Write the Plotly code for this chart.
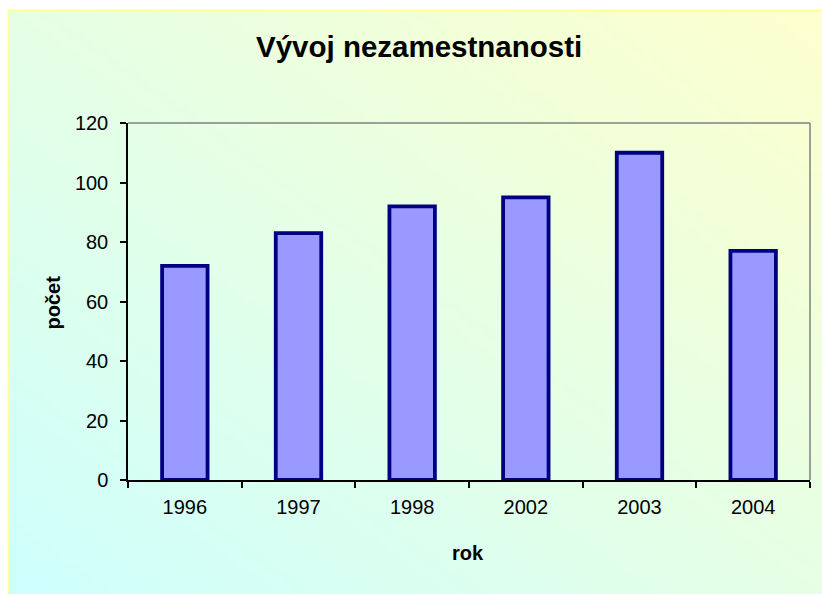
import base64
import struct
import zlib

import plotly.graph_objects as go

# ---- data ----
years = ["1996", "1997", "1998", "2002", "2003", "2004"]
counts = [72, 83, 92, 95, 110, 77]
y_ticks = [0, 20, 40, 60, 80, 100, 120]

title_text = "Vývoj nezamestnanosti"
x_title = "rok"
y_title = "počet"

# ---- layout geometry (pixels) ----
W, H = 822, 594
PL, PR, PT, PB = 128, 810, 123, 480  # plot area
pw, ph = PR - PL, PB - PT


def px_x(p):
    return (p - PL) / pw


def px_y(p):
    return (PB - p) / ph


# ---- background gradient image (pale cyan bottom-left -> pale yellow top-right) ----
def gradient_png(w, h, c_bl, c_tr):
    rows = []
    for j in range(h):
        row = bytearray([0])
        fy = 1 - j / (h - 1)
        for i in range(w):
            fx = i / (w - 1)
            t = (fx + fy) / 2
            row += bytes(int(round(c_bl[k] + (c_tr[k] - c_bl[k]) * t)) for k in range(3))
        rows.append(bytes(row))
    raw = b"".join(rows)

    def chunk(tag, data):
        c = struct.pack(">I", len(data)) + tag + data
        return c + struct.pack(">I", zlib.crc32(tag + data) & 0xFFFFFFFF)

    png = b"\x89PNG\r\n\x1a\n"
    png += chunk(b"IHDR", struct.pack(">IIBBBBB", w, h, 8, 2, 0, 0, 0))
    png += chunk(b"IDAT", zlib.compress(raw, 9))
    png += chunk(b"IEND", b"")
    return "data:image/png;base64," + base64.b64encode(png).decode()


bg_src = gradient_png(128, 96, (204, 255, 255), (255, 255, 204))

FONT = "Arial, Liberation Sans, sans-serif"
BORDER = "#FFFF99"

fig = go.Figure(
    go.Bar(
        x=years,
        y=counts,
        width=0.40,
        marker=dict(color="#9999FF", line=dict(color="#000080", width=3.8)),
    )
)

fig.update_layout(
    width=W,
    height=H,
    margin=dict(l=PL, r=W - PR, t=PT, b=H - PB),
    paper_bgcolor="#E6FFE6",
    plot_bgcolor="white",
    showlegend=False,
    font=dict(family=FONT, size=20, color="black"),
    images=[
        dict(
            source=bg_src,
            xref="paper",
            yref="paper",
            x=px_x(8),
            y=px_y(10),
            sizex=(880 - 8) / pw,
            sizey=(640 - 10) / ph,
            xanchor="left",
            yanchor="top",
            sizing="stretch",
            layer="below",
        )
    ],
    shapes=[
        # white strip outside the chart area (top and left)
        dict(type="rect", xref="paper", yref="paper",
             x0=px_x(0), x1=px_x(8), y0=px_y(0), y1=px_y(H),
             line=dict(width=0), fillcolor="white", layer="below"),
        dict(type="rect", xref="paper", yref="paper",
             x0=px_x(0), x1=px_x(W), y0=px_y(0), y1=px_y(10),
             line=dict(width=0), fillcolor="white", layer="below"),
        # outer chart-area border (top and left edges visible)
        dict(type="line", xref="paper", yref="paper",
             x0=px_x(8.5), x1=px_x(W), y0=px_y(10.5), y1=px_y(10.5),
             line=dict(color=BORDER, width=1.5), layer="below"),
        dict(type="line", xref="paper", yref="paper",
             x0=px_x(8.5), x1=px_x(8.5), y0=px_y(10.5), y1=px_y(H),
             line=dict(color=BORDER, width=1.5), layer="below"),
        # plot-area frame top and right
        dict(type="line", xref="paper", yref="paper", x0=0, x1=1, y0=1, y1=1,
             line=dict(color="#808080", width=1.5)),
        dict(type="line", xref="paper", yref="paper", x0=1, x1=1, y0=0, y1=1,
             line=dict(color="#808080", width=1.5)),
    ],
    annotations=[
        dict(text="<b>" + title_text + "</b>", xref="paper", yref="paper",
             x=px_x(418.5), y=px_y(46), xanchor="center", yanchor="middle",
             showarrow=False, font=dict(family=FONT, size=29.5, color="black")),
        dict(text="<b>" + y_title + "</b>", xref="paper", yref="paper",
             x=px_x(52), y=px_y(302.5), xanchor="center", yanchor="middle",
             textangle=-90, showarrow=False,
             font=dict(family=FONT, size=20, color="black")),
        dict(text="<b>" + x_title + "</b>", xref="paper", yref="paper",
             x=px_x(468), y=px_y(553), xanchor="center", yanchor="middle",
             showarrow=False, font=dict(family=FONT, size=20, color="black")),
    ],
)

fig.update_xaxes(
    type="category",
    showline=True,
    linecolor="black",
    linewidth=1.5,
    ticks="outside",
    tickson="boundaries",
    ticklen=6,
    tickcolor="black",
    tickwidth=1.5,
    showgrid=False,
    ticklabelstandoff=8,
    tickfont=dict(family=FONT, size=20, color="black"),
)
fig.update_yaxes(
    range=[0, 120],
    tickvals=y_ticks,
    showline=True,
    linecolor="black",
    linewidth=1.5,
    ticks="outside",
    ticklen=6,
    tickcolor="black",
    tickwidth=1.5,
    showgrid=False,
    zeroline=False,
    ticklabelstandoff=8,
    tickfont=dict(family=FONT, size=20, color="black"),
)

fig.write_html(
    "out.html",
    config={"displayModeBar": False},
    post_script="document.body.style.margin='0';document.body.style.overflow='hidden';",
)
